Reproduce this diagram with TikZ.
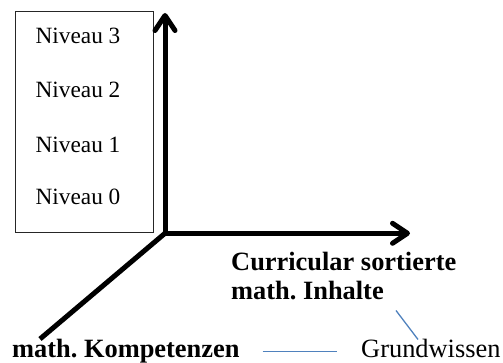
\documentclass[tikz,border=0pt]{standalone}
\usepackage{fontspec}
\setmainfont{Liberation Serif}
\frenchspacing
\usetikzlibrary{arrows.meta,calc}
\definecolor{lineblue}{RGB}{79,129,189}
\tikzset{
  axis/.style={line width=5pt, -{Straight Barb[length=15pt,width=20pt,line cap=round,line join=round]}},
  level/.style={inner sep=0pt, anchor=base, font=\fontsize{23.3}{28}\selectfont},
  boldlabel/.style={inner sep=0pt, anchor=base west, font=\fontsize{26.4}{31}\selectfont\bfseries},
  plainlabel/.style={inner sep=0pt, anchor=base west, font=\fontsize{26.4}{31}\selectfont},
  link/.style={draw=lineblue, line width=1.3pt}
}
\begin{document}
\begin{tikzpicture}[x=1pt,y=-1pt]
\useasboundingbox (0,0) rectangle (503,363);
\node[draw=black!85, line width=0.8pt, minimum width=137.7pt, minimum height=221.3pt, inner sep=0pt, anchor=north west] (box) at (15,11) {};
\node[level] (n3) at (78,43.3) {Niveau 3};
\node[level] (n2) at (78,97.7) {Niveau 2};
\node[level] (n1) at (78,152.7) {Niveau 1};
\node[level] (n0) at (78,205) {Niveau 0};
\coordinate (o) at (165,233.3);
\coordinate (ytip) at (165,13);
\coordinate (xtip) at (410,233.3);
\coordinate (zend) at (40,339);
\draw[axis] ($(o)+(0,2.5)$) -- (ytip);
\draw[axis] ($(o)+(-2.5,0)$) -- (xtip);
\draw[line width=5pt] (o) -- (zend);
\node[boldlabel] (curr1) at (231,271) {Curricular sortierte};
\node[boldlabel] (curr2) at (231,299.5) {math. Inhalte};
\node[boldlabel] (komp) at (12,357) {math. Kompetenzen};
\node[plainlabel] (grund) at (361,357) {Grundwissen};
\draw[link] ($(komp.base east)+(23,-5.5)$) -- ($(grund.base west)+(-24,-5.5)$);
\draw[link] ($(curr2.base west)+(165,11)$) -- ($(grund.north west)+(57,1)$);
\end{tikzpicture}
\end{document}
